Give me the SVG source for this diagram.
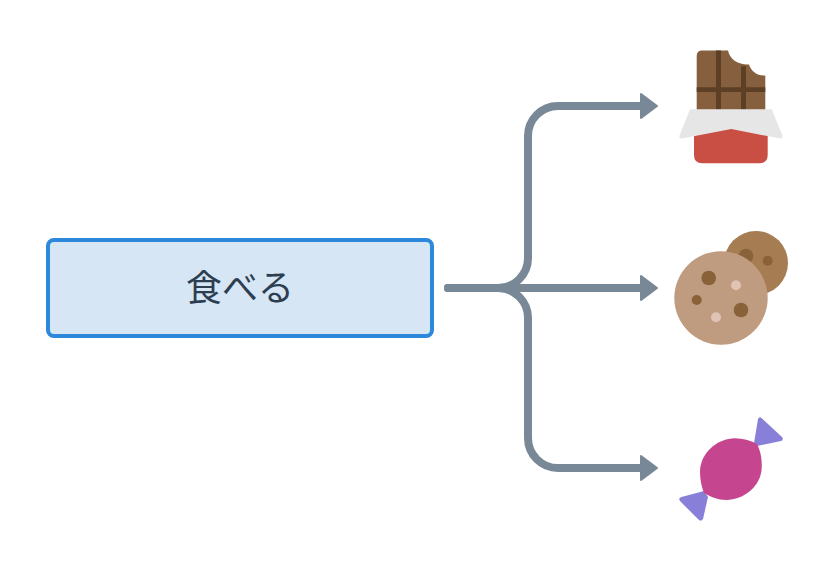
<svg xmlns="http://www.w3.org/2000/svg" width="838" height="576" viewBox="0 0 838 576">
<style>
.edge{fill:none;stroke:#788896;stroke-width:8;stroke-linecap:round}
.head{fill:#788896;stroke:#788896;stroke-width:2;stroke-linejoin:round}
.label{font-family:"Noto Sans CJK JP","Noto Sans CJK SC",sans-serif;font-size:36px;fill:#2c3e50;text-anchor:middle}
</style>
<rect width="838" height="576" fill="#fff"/>
<g id="connectors">
<path class="edge" d="M448 288H498A30 30 0 0 0 528 258V136A30 30 0 0 1 558 106H644"/>
<path class="edge" d="M448 288H646"/>
<path class="edge" d="M448 288H498A30 30 0 0 1 528 318V438A30 30 0 0 0 558 468H644"/>
<path class="head" d="M641 94L657 106L641 118Z"/>
<path class="head" d="M641 276L657 288L641 300Z"/>
<path class="head" d="M641 456L657 468L641 480Z"/>
</g>
<g id="node-eat">
<rect x="48" y="240" width="384" height="96" rx="6" fill="#d6e6f5" stroke="#2e88da" stroke-width="4"/>
<text class="label" x="240" y="301">食べる</text>
</g>
<g id="node-chocolate">
<path d="M702 50.500H728C730 60 739 65 749 64.500C751 71 757 76 765.300 75.500V111H696.700V56Q696.700 50.500 702 50.500Z" fill="#86603e"/>
<path d="M716 50.500H721V111H716ZM741 66.500L746 66V111H741ZM696.700 87.300H765.300V92H696.700Z" fill="#5c3f24"/>
<path d="M694 125H767.700V155Q767.700 163.300 759 163.300H702.500Q694 163.300 694 155Z" fill="#c94f45"/>
<path d="M690 109.300H771.700L782.700 136Q783 138.700 780 138.600L731.300 129L682 138.600Q679 138.700 679.300 136Z" fill="#e6e6e6"/>
</g>
<g id="node-cookie">
<circle cx="756" cy="263" r="32" fill="#a67c52"/>
<circle cx="746" cy="256" r="7.300" fill="#8a6239"/>
<circle cx="767.700" cy="260.700" r="5" fill="#8a6239"/>
<circle cx="721" cy="298" r="46.700" fill="#bf9c80"/>
<circle cx="708.700" cy="278" r="7.300" fill="#8a6239"/>
<circle cx="741" cy="310" r="7.300" fill="#8a6239"/>
<circle cx="696.700" cy="300" r="5" fill="#8a6239"/>
<circle cx="736" cy="285.300" r="5" fill="#dfc3b5"/>
<circle cx="716" cy="317.300" r="5" fill="#dfc3b5"/>
</g>
<g id="node-candy">
<path d="M754 443L758 419Q759.500 416 762 418.500L782 437Q784 440 781 441L757 446ZM708 497L703 519Q701 522 698.500 519.500L680 501Q678 498 681.500 497L704 491Z" fill="#8880d8"/>
<path d="M757 444C761 452 762 460 761.700 468C761 486 744 500 726 500C718 500 711 497 704 493C701 486 700 478 700 471C700.500 453 717 438.500 735 438.300C743 438.500 750 440.500 757 444Z" fill="#c5458f"/>
</g>
</svg>
